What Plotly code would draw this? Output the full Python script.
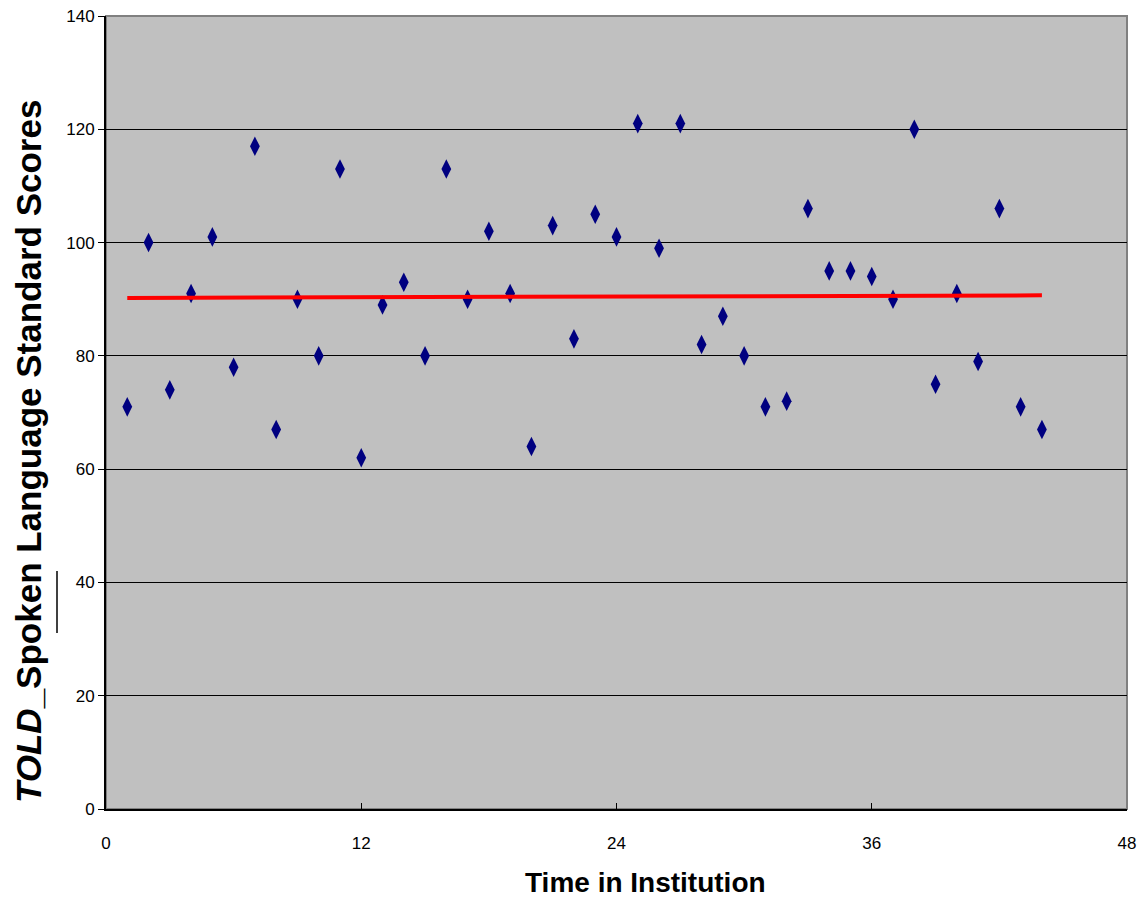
import numpy as np
import plotly.graph_objects as go

months = list(range(1, 45))
scores = [71, 100, 74, 91, 101, 78, 117, 67, 90, 80, 113, 62, 89, 93, 80, 113, 90, 102,
          91, 64, 103, 83, 105, 101, 121, 99, 121, 82, 87, 80, 71, 72, 106, 95, 95, 94,
          90, 120, 75, 91, 79, 106, 71, 67]
x_ticks = [0, 12, 24, 36, 48]
y_ticks = [0, 20, 40, 60, 80, 100, 120, 140]

slope, intercept = np.polyfit(months, scores, 1)
trend_x = [months[0], months[-1]]
trend_y = [slope * v + intercept for v in trend_x]

fig = go.Figure()
fig.add_trace(go.Scatter(x=months, y=scores, mode="markers",
                         marker=dict(symbol="diamond-tall", size=14, color="#000080"),
                         showlegend=False))
fig.add_trace(go.Scatter(x=trend_x, y=trend_y, mode="lines",
                         line=dict(color="#FF0000", width=4), showlegend=False))

W, H = 1142, 904
L, R, T, B = 106, 15, 16, 95
pw, ph = W - L - R, H - T - B

fig.update_layout(
    width=W, height=H,
    margin=dict(l=L, r=R, t=T, b=B, autoexpand=False),
    paper_bgcolor="white", plot_bgcolor="#C0C0C0",
    font=dict(family="Liberation Sans, Arial", color="black"),
    shapes=[
        dict(type="rect", xref="paper", yref="paper", x0=0, x1=1, y0=0, y1=1,
             line=dict(color="#808080", width=2), layer="below"),
        dict(type="line", xref="paper", yref="paper",
             x0=(57 - L) / pw, x1=(57 - L) / pw,
             y0=(H - B - 633) / ph, y1=(H - B - 571) / ph,
             line=dict(color="black", width=1.5)),
    ],
    annotations=[
        dict(text="<b><i>TOLD</i>_Spoken Language Standard Scores</b>",
             xref="paper", yref="paper", x=(29 - L) / pw, y=(H - B - 452) / ph,
             textangle=-90, showarrow=False, xanchor="center", yanchor="middle",
             font=dict(size=35)),
        dict(text="<b>Time in Institution</b>",
             xref="paper", yref="paper", x=(645 - L) / pw, y=(H - B - 882) / ph,
             showarrow=False, xanchor="center", yanchor="middle",
             font=dict(size=28)),
    ],
)
fig.update_xaxes(range=[0, 48], tickvals=x_ticks, ticks="inside", ticklen=6,
                 tickcolor="black", showgrid=False, zeroline=False, automargin=False,
                 showline=True, linecolor="black", linewidth=2,
                 tickfont=dict(size=17), ticklabelstandoff=18)
fig.update_yaxes(range=[0, 140], tickvals=y_ticks, ticks="outside", ticklen=6,
                 tickcolor="black", showgrid=True, gridcolor="black", gridwidth=1,
                 zeroline=False, showline=True, linecolor="black", linewidth=2,
                 automargin=False, tickfont=dict(size=17))

fig.write_html("out.html")
